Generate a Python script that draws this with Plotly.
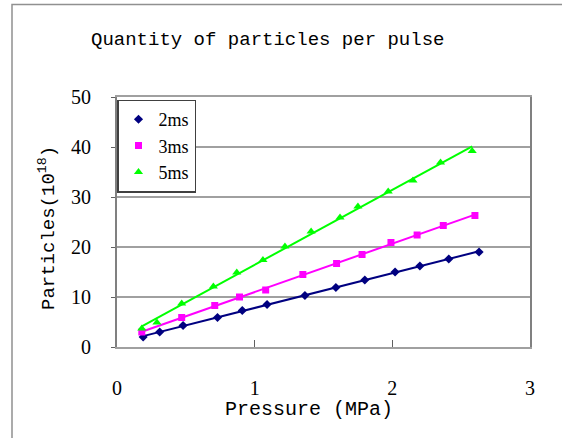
import numpy as np
import plotly.graph_objects as go

# Data
x_2ms = [0.19, 0.31, 0.48, 0.73, 0.91, 1.09, 1.365, 1.59, 1.80, 2.02, 2.20, 2.41, 2.63]
y_2ms = [2.0, 3.0, 4.3, 5.9, 7.3, 8.5, 10.3, 11.9, 13.4, 15.0, 16.2, 17.6, 19.0]

x_3ms = [0.18, 0.47, 0.71, 0.89, 1.08, 1.35, 1.595, 1.78, 1.99, 2.18, 2.37, 2.60]
y_3ms = [3.0, 5.9, 8.3, 10.0, 11.4, 14.5, 16.7, 18.5, 20.9, 22.4, 24.3, 26.3]

x_5ms = [0.18, 0.29, 0.47, 0.70, 0.87, 1.06, 1.22, 1.41, 1.62, 1.75, 1.97, 2.15, 2.35, 2.58]
y_5ms = [3.7, 4.9, 8.7, 12.1, 14.9, 17.4, 20.1, 23.1, 25.9, 28.1, 31.1, 33.3, 36.9, 39.2]

series_names = ["2ms", "3ms", "5ms"]
series_colors = ["#000080", "#ff00ff", "#00ff00"]
series_symbols = ["diamond", "square", "triangle-up"]
series_sizes = [7, 7, 8]

x_ticks = [0, 1, 2, 3]
y_ticks = [0, 10, 20, 30, 40, 50]

title_text = "Quantity of particles per pulse"
x_title = "Pressure (MPa)"
y_title = "Particles(10<sup>18</sup>)"

W, H = 562, 438
fig = go.Figure()

data = [(x_2ms, y_2ms), (x_3ms, y_3ms), (x_5ms, y_5ms)]

# linear trendlines (least-squares fits of each series)
for (xs, ys), c in zip(data, series_colors):
    k, b = np.polyfit(xs, ys, 1)
    xl = np.array([min(xs), max(xs)])
    fig.add_trace(go.Scatter(x=xl, y=k * xl + b, mode="lines",
                             line=dict(color=c, width=2), showlegend=False,
                             hoverinfo="skip"))

for (xs, ys), n, c, s, sz in zip(data, series_names, series_colors, series_symbols, series_sizes):
    fig.add_trace(go.Scatter(x=xs, y=ys, mode="markers", name=n,
                             marker=dict(color=c, symbol=s, size=sz)))

L, R, T, B = 117, 530, 97, 347
fig.update_layout(
    width=W, height=H,
    margin=dict(l=L, r=W - R, t=T, b=H - B, pad=0),
    paper_bgcolor="white", plot_bgcolor="white",
    font=dict(family="Liberation Serif", size=19, color="black"),
    showlegend=True,
    legend=dict(x=0, y=0.99, xanchor="left", yanchor="top",
                bordercolor="#404040", borderwidth=1.5, bgcolor="white",
                font=dict(family="Liberation Serif", size=18),
                itemwidth=30, tracegroupgap=0),
)

fig.update_xaxes(range=[0, 3], tickvals=x_ticks, ticks="inside", ticklen=7,
                 tickcolor="#606060", tickwidth=1,
                 showgrid=False, zeroline=False, showline=True,
                 linecolor="#a0a0a0", linewidth=2, mirror=True,
                 ticklabelstandoff=22,
                 tickfont=dict(family="Liberation Serif", size=20))
fig.update_yaxes(range=[0, 50], tickvals=y_ticks, ticks="outside", ticklen=4,
                 tickcolor="#606060",
                 showgrid=True, gridcolor="#a0a0a0", gridwidth=2,
                 zeroline=False, showline=True,
                 linecolor="#808080", linewidth=2, mirror=True,
                 ticklabelstandoff=16,
                 tickfont=dict(family="Liberation Serif", size=20))

# chart-area border
fig.add_shape(type="rect", xref="paper", yref="paper",
              x0=(12 - L) / (R - L), x1=1.2, y0=-0.5, y1=1 + (T - 4.5) / (B - T),
              line=dict(color="#909090", width=1.5), fillcolor="rgba(0,0,0,0)", layer="below")

fig.add_annotation(text=title_text, xref="paper", yref="paper",
                   x=(267.5 - L) / (R - L), y=1 + (T - 40) / (B - T),
                   showarrow=False, xanchor="center", yanchor="middle",
                   font=dict(family="Liberation Mono", size=19, color="black"))
fig.add_annotation(text=x_title, xref="paper", yref="paper",
                   x=(309 - L) / (R - L), y=-(409 - B) / (B - T),
                   showarrow=False, xanchor="center", yanchor="middle",
                   font=dict(family="Liberation Mono", size=20, color="black"))
fig.add_annotation(text=y_title, xref="paper", yref="paper",
                   x=-(L - 47) / (R - L), y=(B - 228) / (B - T),
                   showarrow=False, xanchor="center", yanchor="middle", textangle=-90,
                   font=dict(family="Liberation Mono", size=19, color="black"))

fig.write_html("out.html")
